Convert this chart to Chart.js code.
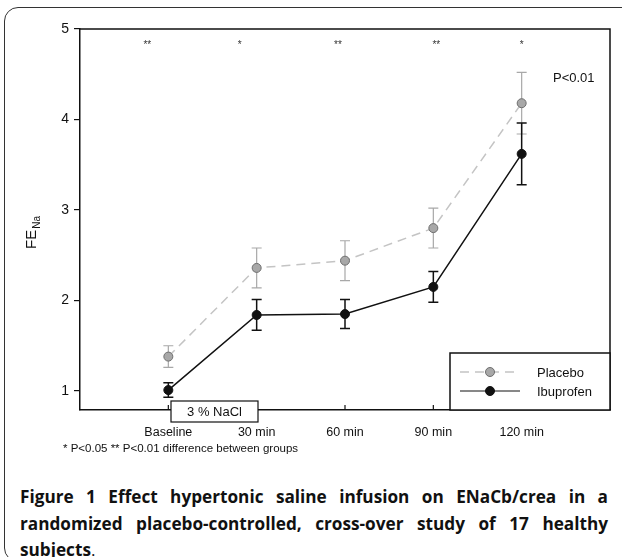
<!DOCTYPE html>
<html>
<head>
<meta charset="utf-8">
<script src="https://cdn.jsdelivr.net/npm/chart.js@4.4.1/dist/chart.umd.min.js"></script>
<style>
    body { margin: 0; background: #fff; width: 622px; height: 557px; overflow: hidden; position: relative; }
    #frame { position: absolute; left: 4px; top: 7px; width: 660px; height: 553px; border: 1.5px solid #333; border-radius: 14px; }
    #chart { position: absolute; left: 0; top: 0; }
    #caption { position: absolute; left: 20px; top: 484px; width: 588px; font-family: 'Open Sans', sans-serif; font-weight: 700; font-size: 17.2px; line-height: 26.5px; text-align: justify; color: #111; }
    #caption .end { font-weight: 400; }
</style>
</head>
<body>
<div id="frame"></div>
<canvas id="chart" width="622" height="470"></canvas>
<div id="caption">Figure 1 Effect hypertonic saline infusion on ENaCb/crea in a randomized placebo-controlled, cross-over study of 17 healthy subjects<span class="end">.</span></div>
<script>
const categories = ['Baseline', '30 min', '60 min', '90 min', '120 min'];
const placeboMean = [1.38, 2.36, 2.44, 2.80, 4.18];
const placeboErr = [0.12, 0.22, 0.22, 0.22, 0.34];
const ibuprofenMean = [1.01, 1.84, 1.85, 2.15, 3.62];
const ibuprofenErr = [0.08, 0.17, 0.16, 0.17, 0.34];
const stars = ['**', '*', '**', '**', '*'];
const yTicks = [1, 2, 3, 4, 5];

const FONT = "'Liberation Sans', Arial, sans-serif";
const PLACEBO_LINE = '#c4c4c4';
const PLACEBO_PT = '#a8a8a8';
const PLACEBO_EDGE = '#6e6e6e';
const INK = '#111';

function toPoints(vals) {
    return vals.map((v, i) => ({ x: i, y: v }));
}

function drawMarker(ctx, x, y, fill, edge) {
    ctx.beginPath();
    ctx.arc(x, y, 4.5, 0, Math.PI * 2);
    ctx.fillStyle = fill;
    ctx.fill();
    ctx.lineWidth = 1;
    ctx.strokeStyle = edge;
    ctx.stroke();
}

const extras = {
    id: 'extras',
    beforeDatasetsDraw(chart) {
        const ctx = chart.ctx;
        const xs = chart.scales.x, ys = chart.scales.y;
        const sets = [
            { mean: placeboMean, err: placeboErr, color: '#a8a8a8', w: 1.2 },
            { mean: ibuprofenMean, err: ibuprofenErr, color: INK, w: 1.5 }
        ];
        ctx.save();
        sets.forEach(s => {
            ctx.strokeStyle = s.color;
            ctx.lineWidth = s.w;
            s.mean.forEach((m, i) => {
                const px = xs.getPixelForValue(i);
                const top = ys.getPixelForValue(m + s.err[i]);
                const bot = ys.getPixelForValue(m - s.err[i]);
                ctx.beginPath();
                ctx.moveTo(px, top); ctx.lineTo(px, bot);
                ctx.moveTo(px - 5, top); ctx.lineTo(px + 5, top);
                ctx.moveTo(px - 5, bot); ctx.lineTo(px + 5, bot);
                ctx.stroke();
            });
        });
        ctx.restore();
    },
    afterDraw(chart) {
        const ctx = chart.ctx;
        const a = chart.chartArea;
        const xs = chart.scales.x, ys = chart.scales.y;
        ctx.save();

        // top and right frame
        ctx.strokeStyle = INK;
        ctx.lineWidth = 1.5;
        ctx.beginPath();
        ctx.moveTo(a.left, a.top); ctx.lineTo(a.right, a.top); ctx.lineTo(a.right, a.bottom);
        ctx.stroke();

        // inward x ticks
        ctx.lineWidth = 1.2;
        categories.forEach((c, i) => {
            const px = xs.getPixelForValue(i);
            ctx.beginPath();
            ctx.moveTo(px, a.bottom); ctx.lineTo(px, a.bottom - 5);
            ctx.stroke();
        });

        // significance stars
        const starShift = [-21, -17, -7, 3, 0];
        ctx.fillStyle = '#333';
        ctx.font = '10px ' + FONT;
        ctx.textAlign = 'center';
        ctx.textBaseline = 'middle';
        stars.forEach((s, i) => {
            ctx.fillText(s, xs.getPixelForValue(i) + starShift[i], a.top + 16);
        });

        ctx.fillStyle = INK;
        ctx.font = '13px ' + FONT;
        ctx.textAlign = 'left';
        ctx.fillText('P<0.01', 553, 78);

        // legend
        const lx = 450, ly = 353;
        ctx.fillStyle = '#fff';
        ctx.fillRect(lx, ly, a.right - lx, a.bottom - ly);
        ctx.strokeStyle = INK;
        ctx.lineWidth = 1.5;
        ctx.strokeRect(lx, ly, a.right - lx, a.bottom - ly);

        ctx.strokeStyle = PLACEBO_LINE;
        ctx.lineWidth = 1.5;
        ctx.setLineDash([9, 6]);
        ctx.beginPath(); ctx.moveTo(460, 372); ctx.lineTo(520, 372); ctx.stroke();
        ctx.setLineDash([]);
        drawMarker(ctx, 490, 372, PLACEBO_PT, PLACEBO_EDGE);

        ctx.strokeStyle = INK;
        ctx.beginPath(); ctx.moveTo(460, 391); ctx.lineTo(520, 391); ctx.stroke();
        drawMarker(ctx, 490, 391, INK, INK);

        ctx.fillStyle = INK;
        ctx.font = '13px ' + FONT;
        ctx.fillText('Placebo', 537, 373);
        ctx.fillText('Ibuprofen', 537, 392);

        // 3 % NaCl box
        ctx.fillStyle = '#fff';
        ctx.fillRect(171, 401, 87, 21);
        ctx.lineWidth = 1.2;
        ctx.strokeRect(171, 401, 87, 21);
        ctx.fillStyle = INK;
        ctx.textAlign = 'center';
        ctx.fillText('3 % NaCl', 214.5, 412);

        // footnote
        ctx.font = '11.5px ' + FONT;
        ctx.textAlign = 'left';
        ctx.fillText('* P<0.05 ** P<0.01 difference between groups', 63, 449);

        // y title FE with Na subscript
        ctx.translate(36, 249);
        ctx.rotate(-Math.PI / 2);
        ctx.textBaseline = 'alphabetic';
        ctx.font = '15px ' + FONT;
        ctx.fillText('FE', 0, 0);
        const w = ctx.measureText('FE').width;
        ctx.font = '10px ' + FONT;
        ctx.fillText('Na', w + 1, 4);

        ctx.restore();
    }
};

new Chart(document.getElementById('chart'), {
    type: 'line',
    data: {
        datasets: [
            {
                label: 'Placebo',
                data: toPoints(placeboMean),
                borderColor: PLACEBO_LINE,
                borderWidth: 1.5,
                borderDash: [9, 6],
                pointRadius: 4.5,
                pointBackgroundColor: PLACEBO_PT,
                pointBorderColor: PLACEBO_EDGE,
                pointBorderWidth: 1,
                tension: 0
            },
            {
                label: 'Ibuprofen',
                data: toPoints(ibuprofenMean),
                borderColor: INK,
                borderWidth: 1.5,
                pointRadius: 4.5,
                pointBackgroundColor: INK,
                pointBorderColor: INK,
                pointBorderWidth: 1,
                tension: 0
            }
        ]
    },
    options: {
        responsive: false,
        animation: false,
        devicePixelRatio: 1,
        layout: { padding: { top: 29, right: 12, left: 0, bottom: 0 } },
        plugins: { legend: { display: false }, tooltip: { enabled: false } },
        scales: {
            x: {
                type: 'linear',
                min: -1,
                max: 5,
                afterFit: s => { s.height = 60; },
                afterBuildTicks: s => { s.ticks = categories.map((c, i) => ({ value: i })); },
                grid: { display: false },
                border: { display: true, color: INK, width: 1.5 },
                ticks: {
                    padding: 7,
                    color: INK,
                    font: { family: FONT, size: 12.5 },
                    callback: v => categories[v] || ''
                }
            },
            y: {
                min: 0.79,
                max: 5,
                afterFit: s => { s.width = 80; },
                afterBuildTicks: s => { s.ticks = yTicks.map(v => ({ value: v })); },
                grid: { drawOnChartArea: false, tickLength: 6, color: INK, lineWidth: 1.2 },
                border: { display: true, color: INK, width: 1.5 },
                ticks: {
                    padding: 5,
                    color: INK,
                    font: { family: FONT, size: 14 }
                }
            }
        }
    },
    plugins: [extras]
});
</script>
</body>
</html>
